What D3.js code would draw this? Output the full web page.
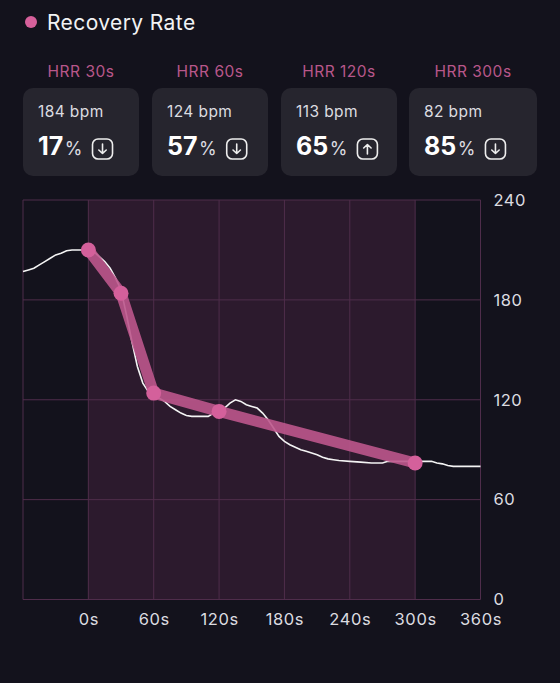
<html><head>
<script src="https://d3js.org/d3.v7.min.js"></script>
<style>
  body { margin: 0; background: #13121c; }
  text { font-family: Inter, "Noto Sans", sans-serif; }
</style>
</head>
<body>
<svg id="chart" width="560" height="683"></svg>
<script>
// ---- data ----
const hrrLabels = ["HRR 30s", "HRR 60s", "HRR 120s", "HRR 300s"];
const hrrBpm = [184, 124, 113, 82];
const hrrPct = [17, 57, 65, 85];
const hrrDir = ["down", "down", "up", "down"];

// recovery checkpoints (seconds, bpm)
const recTimes = [0, 30, 60, 120, 300];
const recBpm = [210, 184, 124, 113, 82];

// heart rate trace (seconds, bpm)
const hrTimes = [-60, -55, -50, -45, -40, -35, -30, -25, -20, -15, -10, -5, 0, 5, 10, 15, 20, 25, 30, 35, 40, 45, 50, 55, 60,
  65, 70, 75, 80, 85, 90, 95, 100, 105, 110, 115, 120, 125, 130, 135, 140, 145, 150, 155, 160, 165, 170, 175, 180,
  185, 190, 195, 200, 205, 210, 215, 220, 225, 230, 240, 250, 260, 270, 275, 280, 290, 300, 310, 315, 320, 325, 330,
  335, 340, 350, 360];
const hrBpm = [197, 198, 199, 201, 203, 205, 207, 208, 209.5, 210, 210, 210, 210, 209, 206, 203, 199, 193, 186, 171, 155, 140, 130, 125, 123,
  121, 119, 116, 114, 112, 110.5, 110, 110, 110, 110, 112, 113, 115, 118, 120, 119, 117, 116, 115, 112, 108, 103, 98, 95,
  93, 91.5, 90, 89, 88, 87, 85.5, 84.5, 84, 83.5, 83, 82.5, 82, 82, 83, 83, 83, 83, 83, 83, 82, 81.5, 80.5,
  80, 80, 80, 80];

const xTicks = [0, 60, 120, 180, 240, 300, 360];
const yTicks = [0, 60, 120, 180, 240];

const svg = d3.select("#chart");

// ---- header ----
svg.append("circle").attr("cx", 31).attr("cy", 22).attr("r", 6).attr("fill", "#d6609b");
svg.append("text").attr("x", 47).attr("y", 29.5)
  .attr("font-size", 21).attr("letter-spacing", 0.4)
  .attr("fill", "#f2f2f4").text("Recovery Rate");

// ---- cards ----
const cardX = [23, 152, 281, 409];
const cardW = [116, 116, 116, 128];
const cards = svg.selectAll("g.card").data(hrrLabels)
  .join("g").attr("class", "card")
  .attr("transform", (d, i) => "translate(" + cardX[i] + ",88)");

cards.append("text")
  .attr("x", (d, i) => cardW[i] / 2).attr("y", -11)
  .attr("text-anchor", "middle").attr("font-size", 15.5).attr("letter-spacing", 0.5)
  .attr("fill", "#b8578a").text(d => d);

cards.append("rect")
  .attr("width", (d, i) => cardW[i]).attr("height", 88)
  .attr("rx", 10).attr("fill", "#26252e");

cards.append("text")
  .attr("x", 15).attr("y", 29).attr("font-size", 15.5).attr("letter-spacing", 0.4)
  .attr("fill", "#dcdce0").text((d, i) => hrrBpm[i] + " bpm");

const pct = cards.append("text").attr("class", "pct").attr("x", 15).attr("y", 67);
pct.append("tspan").attr("font-size", 25).attr("font-weight", 700)
  .attr("fill", "#ffffff").text((d, i) => hrrPct[i]);
pct.append("tspan").attr("font-size", 18).attr("dx", 1.5)
  .attr("fill", "#dcdce0").text("%");

// arrow icon sits just after the percentage text
const icon = cards.append("g")
  .attr("transform", function() {
    const bb = this.parentNode.querySelector("text.pct").getBBox();
    return "translate(" + (bb.x + bb.width + 10) + ",51)";
  });
icon.append("rect").attr("width", 20).attr("height", 20).attr("rx", 5.5)
  .attr("fill", "none").attr("stroke", "#eeeeee").attr("stroke-width", 1.6);
icon.append("path")
  .attr("d", (d, i) => hrrDir[i] === "down"
    ? "M10,5 V14.5 M6.3,11 L10,14.5 L13.7,11"
    : "M10,15 V5.5 M6.3,9 L10,5.5 L13.7,9")
  .attr("fill", "none").attr("stroke", "#eeeeee").attr("stroke-width", 1.6)
  .attr("stroke-linecap", "round").attr("stroke-linejoin", "round");

// ---- plot ----
const x = d3.scaleLinear().domain([-60, 360]).range([23, 480.5]);
const y = d3.scaleLinear().domain([0, 240]).range([599.5, 200]);
const gridColor = "#4f2d4b";

// shaded recovery window
svg.append("rect")
  .attr("x", x(0)).attr("y", y(240))
  .attr("width", x(300) - x(0)).attr("height", y(0) - y(240))
  .attr("fill", "#2c1a2d");

// vertical grid
svg.selectAll("line.vg").data([-60].concat(xTicks))
  .join("line").attr("class", "vg")
  .attr("x1", d => x(d)).attr("x2", d => x(d))
  .attr("y1", y(240)).attr("y2", y(0))
  .attr("stroke", gridColor).attr("stroke-width", 1);

// horizontal grid
svg.selectAll("line.hg").data(yTicks)
  .join("line").attr("class", "hg")
  .attr("x1", x(-60)).attr("x2", x(360))
  .attr("y1", d => y(d)).attr("y2", d => y(d))
  .attr("stroke", gridColor).attr("stroke-width", 1);

// axes
const xAxis = d3.axisBottom(x).tickValues(xTicks).tickSize(0).tickFormat(d => d + "s");
svg.append("g").attr("transform", "translate(0," + (y(0) + 10.5) + ")").call(xAxis)
  .call(g => g.select(".domain").remove())
  .selectAll("text").attr("font-size", 16.5).attr("letter-spacing", 0.6).attr("fill", "#dcdce0")
  .attr("font-family", "Inter, 'Noto Sans', sans-serif");

const yAxis = d3.axisRight(y).tickValues(yTicks).tickSize(0);
svg.append("g").attr("transform", "translate(" + (x(360) + 10) + ",0)").call(yAxis)
  .call(g => g.select(".domain").remove())
  .selectAll("text").attr("font-size", 16.5).attr("letter-spacing", 0.5).attr("fill", "#dcdce0")
  .attr("font-family", "Inter, 'Noto Sans', sans-serif");

// heart rate trace
const hrLine = d3.line().x(d => x(d[0])).y(d => y(d[1]));
svg.append("path")
  .datum(hrTimes.map((t, i) => [t, hrBpm[i]]))
  .attr("d", hrLine)
  .attr("fill", "none").attr("stroke", "#f4f4f4").attr("stroke-width", 1.6);

// recovery line + markers
const recPts = recTimes.map((t, i) => [t, recBpm[i]]);
svg.append("path")
  .datum(recPts)
  .attr("d", hrLine)
  .attr("fill", "none").attr("stroke", "#bd568c").attr("stroke-opacity", 0.9)
  .attr("stroke-width", 11).attr("stroke-linejoin", "round");

svg.selectAll("circle.rec").data(recPts)
  .join("circle").attr("class", "rec")
  .attr("cx", d => x(d[0])).attr("cy", d => y(d[1]))
  .attr("r", 7.5).attr("fill", "#d4609b");
</script>
</body>
</html>
